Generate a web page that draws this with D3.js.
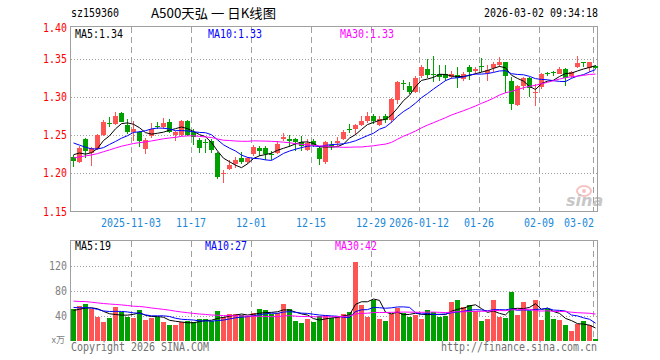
<!DOCTYPE html>
<html><head><meta charset="utf-8">
<script src="https://cdn.jsdelivr.net/npm/d3@7"></script>
<style>body{margin:0;background:#fff}svg{display:block}</style>
</head><body><svg id="c" width="660" height="360"></svg>
<script>
// ---- data ----
const dates = [
"2025-10-20","2025-10-21","2025-10-22","2025-10-23","2025-10-24","2025-10-27","2025-10-28","2025-10-29","2025-10-30","2025-10-31",
"2025-11-03","2025-11-04","2025-11-05","2025-11-06","2025-11-07","2025-11-10","2025-11-11","2025-11-12","2025-11-13","2025-11-14",
"2025-11-17","2025-11-18","2025-11-19","2025-11-20","2025-11-21","2025-11-24","2025-11-25","2025-11-26","2025-11-27","2025-11-28",
"2025-12-01","2025-12-02","2025-12-03","2025-12-04","2025-12-05","2025-12-08","2025-12-09","2025-12-10","2025-12-11","2025-12-12",
"2025-12-15","2025-12-16","2025-12-17","2025-12-18","2025-12-19","2025-12-22","2025-12-23","2025-12-24","2025-12-25","2025-12-26",
"2025-12-29","2025-12-30","2025-12-31","2026-01-05","2026-01-06","2026-01-07","2026-01-08","2026-01-09","2026-01-12","2026-01-13",
"2026-01-14","2026-01-15","2026-01-16","2026-01-19","2026-01-20","2026-01-21","2026-01-22","2026-01-23","2026-01-26","2026-01-27",
"2026-01-28","2026-01-29","2026-01-30","2026-02-02","2026-02-03","2026-02-04","2026-02-05","2026-02-06","2026-02-09","2026-02-10",
"2026-02-11","2026-02-12","2026-02-13","2026-02-24","2026-02-25","2026-02-26","2026-02-27","2026-03-02"];
const open = [1.221,1.215,1.245,1.227,1.232,1.250,1.266,1.265,1.279,1.264,
1.255,1.254,1.232,1.249,1.262,1.261,1.268,1.250,1.250,1.269,
1.254,1.244,1.241,1.242,1.227,1.199,1.206,1.213,1.220,1.215,
1.225,1.233,1.234,1.226,1.227,1.245,1.245,1.245,1.241,1.231,
1.242,1.233,1.215,1.238,1.240,1.245,1.259,1.258,1.264,1.269,
1.275,1.264,1.275,1.270,1.297,1.319,1.315,1.307,1.328,1.337,
1.330,1.331,1.330,1.327,1.329,1.324,1.340,1.335,1.341,1.332,
1.338,1.343,1.346,1.321,1.290,1.315,1.325,1.305,1.313,1.332,
1.333,1.331,1.337,1.328,1.340,1.346,1.338,1.341];
const high = [1.224,1.236,1.247,1.235,1.252,1.270,1.274,1.281,1.281,1.272,
1.269,1.256,1.246,1.266,1.268,1.273,1.271,1.256,1.270,1.270,
1.258,1.246,1.245,1.245,1.228,1.205,1.218,1.222,1.228,1.222,
1.237,1.236,1.236,1.229,1.242,1.253,1.251,1.247,1.249,1.245,
1.245,1.236,1.243,1.242,1.248,1.257,1.265,1.265,1.275,1.281,
1.278,1.275,1.278,1.299,1.321,1.323,1.320,1.328,1.343,1.350,
1.354,1.343,1.343,1.334,1.340,1.333,1.342,1.340,1.352,1.343,
1.346,1.353,1.347,1.327,1.316,1.327,1.327,1.318,1.332,1.333,
1.335,1.340,1.338,1.335,1.354,1.347,1.347,1.343];
const low = [1.209,1.214,1.220,1.210,1.231,1.249,1.261,1.264,1.267,1.252,
1.243,1.235,1.225,1.247,1.258,1.258,1.253,1.243,1.249,1.249,
1.238,1.227,1.227,1.227,1.193,1.188,1.204,1.207,1.212,1.212,
1.223,1.223,1.218,1.217,1.226,1.242,1.235,1.229,1.229,1.229,
1.235,1.211,1.213,1.231,1.236,1.244,1.253,1.250,1.262,1.266,
1.265,1.262,1.266,1.266,1.291,1.309,1.304,1.305,1.326,1.325,
1.320,1.322,1.322,1.324,1.312,1.322,1.323,1.331,1.333,1.322,
1.333,1.340,1.306,1.283,1.289,1.310,1.300,1.289,1.311,1.328,
1.328,1.330,1.315,1.325,1.338,1.340,1.333,1.337];
const close = [1.216,1.234,1.230,1.234,1.250,1.268,1.265,1.276,1.268,1.255,
1.259,1.242,1.244,1.258,1.261,1.266,1.255,1.254,1.269,1.250,
1.248,1.234,1.240,1.231,1.195,1.200,1.211,1.217,1.215,1.220,
1.235,1.229,1.225,1.224,1.239,1.248,1.242,1.241,1.236,1.240,
1.238,1.219,1.241,1.235,1.243,1.255,1.258,1.264,1.269,1.275,
1.269,1.272,1.270,1.298,1.320,1.318,1.307,1.326,1.340,1.329,
1.329,1.327,1.325,1.330,1.325,1.330,1.333,1.337,1.340,1.336,
1.344,1.346,1.328,1.291,1.315,1.326,1.312,1.307,1.330,1.331,
1.332,1.337,1.326,1.333,1.345,1.345,1.347,1.338];
// volume, in 万
const volume = [51,55,59,51,38,30,36,53,46,38,
36,49,33,36,38,30,25,25,30,32,
30,34,34,32,47,38,43,43,41,39,
44,51,49,42,44,59,50,32,28,35,
30,39,41,36,38,43,46,126,57,38,
65,35,32,43,52,44,38,41,35,49,
46,38,39,62,65,54,57,48,31,35,
65,38,36,78,41,62,48,65,33,51,
35,33,25,15,27,31,25,2];
// sessions before the first visible one, estimated from where the MA lines start
const priorClose = [1.190,1.192,1.195,1.198,1.193,1.196,1.199,1.197,1.202,
1.205,1.210,1.215,1.218,1.220,1.222,1.225,1.228,1.230,1.233,1.240,
1.262,1.258,1.255,1.252,1.250,1.223,1.237,1.225,1.222];
const priorVolume = [72,65,80,70,62,58,75,68,66,71,60,64,78,70,66,62,74,69,65,65,
62,55,60,57,56,45,50,48,46];
const priceTicks = [1.40,1.35,1.30,1.25,1.20,1.15];
const priceTickLabels = ["1.40","1.35","1.30","1.25","1.20","1.15"];
const volTicks = [120,80,40];
const volTickLabels = ["120","80","40"];
const tickDates = ["2025-11-03","2025-11-17","2025-12-01","2025-12-15","2025-12-29","2026-01-12","2026-01-26","2026-02-09","2026-03-02"];
const tickLabels = ["2025-11-03","11-17","12-01","12-15","12-29","2026-01-12","01-26","02-09","03-02"];
const priceLegend = ["MA5:1.34","MA10:1.33","MA30:1.33"];
const volLegend = ["MA5:19","MA10:27","MA30:42"];
const maPeriods = [5,10,30];

// ---- drawing ----
const svg = d3.select("#c");
svg.append("rect").attr("width",660).attr("height",360).attr("fill","#fff");
const L = 70.5, R = 597.5, PT = 26.5, PB = 211.5, VT = 240.5, VB = 340.5;
const RED = "#ff5454", GREEN = "#00a000", GRID = "#a0a0a0";
const maColors = ["#000000","#0000ff","#ff00ff"];
const MONO = "DejaVu Sans Mono, monospace";

const x = d3.scaleBand().domain(d3.range(dates.length)).range([70, 598]).paddingInner(1/6).paddingOuter(1/12);
const xc = i => Math.round(x(i) + x.bandwidth()/2) + 0.5;
const y = d3.scaleLinear().domain([1.15, 1.393]).range([PB, PT]);
const yv = d3.scaleLinear().domain([0, 160]).range([VB, VT]);

function text(g, s, tx, ty, color, anchor, w) {
  w = w || s.length * 6;
  return g.append("text").attr("x", tx).attr("y", ty).attr("fill", color)
    .attr("font-family", MONO).attr("font-size", 11.5)
    .attr("text-anchor", anchor || "start")
    .attr("textLength", w).attr("lengthAdjust", "spacingAndGlyphs").text(s);
}

// header
text(svg, "sz159360", 71, 17, "#000");
svg.append("text").attr("x",151).attr("y",18).attr("font-family","Noto Sans CJK SC, sans-serif")
  .attr("font-size",13).attr("textLength",125).attr("lengthAdjust","spacingAndGlyphs")
  .attr("fill","#000").text("A500天弘 一 日K线图");
text(svg, "2026-03-02 09:34:18", 598, 17, "#000", "end");

// grids
const grid = svg.append("g").attr("shape-rendering","crispEdges");
const tickIdx = tickDates.map(d => dates.indexOf(d));
tickIdx.forEach(i => {
  const tx = Math.round(x(i)) + 0.5;
  [[PT, PB],[VT, VB]].forEach(([a,b]) => grid.append("line").attr("x1",tx).attr("x2",tx).attr("y1",a).attr("y2",b)
    .attr("stroke",GRID).attr("stroke-dasharray","6,4"));
});
priceTicks.filter(v => v < 1.393 && v > 1.15).forEach(v => {
  const ty = Math.round(y(v)) + 0.5;
  grid.append("line").attr("x1",L).attr("x2",R).attr("y1",ty).attr("y2",ty).attr("stroke",GRID).attr("stroke-dasharray","1,2");
});
volTicks.forEach(v => {
  const ty = Math.round(yv(v)) + 0.5;
  grid.append("line").attr("x1",L).attr("x2",R).attr("y1",ty).attr("y2",ty).attr("stroke",GRID).attr("stroke-dasharray","1,2");
});
// frames
grid.append("rect").attr("x",L).attr("y",PT).attr("width",R-L).attr("height",PB-PT).attr("fill","none").attr("stroke",GRID);
grid.append("path").attr("d",`M${L},${VB}V${VT}H${R}V${VB}`).attr("fill","none").attr("stroke",GRID);

// price axis labels
priceTicks.forEach((v,k) => {
  const ty = Math.max(PT+1, Math.min(PB+3, y(v)));
  text(svg, priceTickLabels[k], 67, ty + 4, "#ff0000", "end");
});
volTicks.forEach((v,k) => text(svg, volTickLabels[k], 67, yv(v) + 4, "#808080", "end"));
svg.append("text").attr("x",65).attr("y",343).attr("fill","#808080").attr("font-family","Noto Sans CJK SC, sans-serif")
  .attr("font-size",9).attr("text-anchor","end").text("x万");

// date labels
tickIdx.forEach((i,k) => {
  const tx = Math.round(x(i));
  const s = tickLabels[k], w = s.length*6;
  if (tx + w/2 > R) text(svg, s, tx + 1, 227, "#1a88d8", "end");
  else text(svg, s, tx, 227, "#1a88d8", "middle");
});

// sina watermark
const wm = svg.append("g").attr("opacity",0.55);
wm.append("ellipse").attr("cx",584).attr("cy",191).attr("rx",7).attr("ry",5).attr("fill","none").attr("stroke","#f09090").attr("stroke-width",2);
wm.append("circle").attr("cx",584).attr("cy",191).attr("r",2).attr("fill","#f09090");
wm.append("text").attr("x",566).attr("y",206).attr("font-family","DejaVu Sans, sans-serif").attr("font-style","italic")
  .attr("font-weight","bold").attr("font-size",16).attr("fill","#9a9a9a").text("sina");

// candles
const cg = svg.append("g").attr("shape-rendering","crispEdges");
dates.forEach((d,i) => {
  const up = close[i] >= open[i];
  const col = up ? RED : GREEN;
  cg.append("line").attr("x1",xc(i)).attr("x2",xc(i)).attr("y1",y(high[i])).attr("y2",y(low[i])).attr("stroke",col);
  const top = y(Math.max(open[i],close[i])), bot = y(Math.min(open[i],close[i]));
  cg.append("rect").attr("x",Math.round(x(i))).attr("width",x.bandwidth()).attr("y",top).attr("height",Math.max(1,bot-top)).attr("fill",col);
});

// volume bars
const vg = svg.append("g").attr("shape-rendering","crispEdges");
volume.forEach((v,i) => {
  const up = close[i] >= open[i];
  vg.append("rect").attr("x",Math.round(x(i))).attr("width",x.bandwidth()).attr("y",yv(v)).attr("height",Math.max(1,VB-yv(v)))
    .attr("fill", up ? RED : GREEN);
});

// moving averages
function movingAvg(values, prior, n) {
  const all = prior.concat(values);
  return values.map((_,i) => d3.mean(all.slice(i + prior.length - n + 1, i + prior.length + 1)));
}
maPeriods.forEach((n,k) => {
  const mp = movingAvg(close, priorClose, n);
  svg.append("path").attr("d", d3.line().x((d,i)=>xc(i)).y(d=>y(d))(mp)).attr("fill","none").attr("stroke",maColors[k]).attr("stroke-width",1);
  const mv = movingAvg(volume, priorVolume, n);
  svg.append("path").attr("d", d3.line().x((d,i)=>xc(i)).y(d=>yv(d))(mv)).attr("fill","none").attr("stroke",maColors[k]).attr("stroke-width",1);
});

// legends
[75,208,340].forEach((lx,k) => text(svg, priceLegend[k], lx, 38, maColors[k]));
[75,205,335].forEach((lx,k) => text(svg, volLegend[k], lx, 250, maColors[k]));

// footer
text(svg, "Copyright 2026 SINA.COM", 71, 351, "#707070");
text(svg, "http://finance.sina.com.cn", 597, 351, "#707070", "end");
</script></body></html>
